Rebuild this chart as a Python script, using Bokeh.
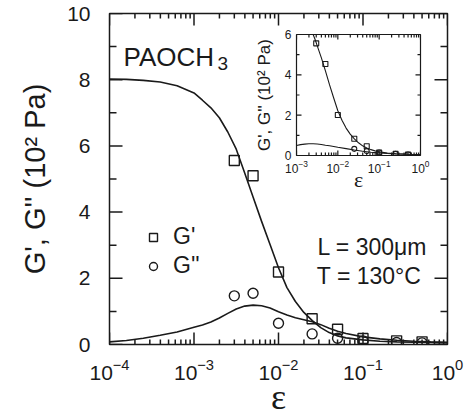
import numpy as np
from bokeh.plotting import figure
from bokeh.models import (Range1d, FixedTicker, Label, Legend, LegendItem,
                          Arrow, ColumnDataSource)
from bokeh.layouts import column
from bokeh.embed import file_html
from bokeh.resources import INLINE

# ---------------- data ----------------
strain = [0.003, 0.005, 0.01, 0.025, 0.05, 0.1, 0.25, 0.5]
g_storage = [5.56, 5.10, 2.19, 0.78, 0.46, 0.18, 0.11, 0.08]
g_loss = [1.47, 1.55, 0.64, 0.32, 0.19, 0.11, 0.06, 0.05]

fit_log_strain = [-4.0, -3.8, -3.6, -3.4, -3.2, -3.0, -2.9, -2.8, -2.7, -2.6,
                  -2.5, -2.4, -2.3, -2.2, -2.1, -2.0, -1.9, -1.8, -1.7, -1.6,
                  -1.5, -1.4, -1.3, -1.2, -1.0, -0.8, -0.6, -0.4, -0.2, 0.0]
fit_storage = [8.02, 8.01, 7.98, 7.93, 7.82, 7.60, 7.38, 7.15, 6.85, 6.42,
               5.90, 5.18, 4.45, 3.72, 3.02, 2.32, 1.72, 1.30, 0.97, 0.72,
               0.51, 0.36, 0.26, 0.20, 0.14, 0.10, 0.08, 0.07, 0.06, 0.05]
fit_loss = [0.08, 0.12, 0.19, 0.28, 0.38, 0.52, 0.59, 0.68, 0.80, 0.94,
            1.07, 1.16, 1.19, 1.17, 1.10, 0.99, 0.89, 0.81, 0.75, 0.69,
            0.60, 0.49, 0.40, 0.33, 0.23, 0.17, 0.13, 0.10, 0.08, 0.07]

inset_strain = [0.003, 0.005, 0.01, 0.025, 0.05, 0.1, 0.25, 0.5]
inset_storage = [5.56, 4.54, 2.01, 0.83, 0.46, 0.15, 0.08, 0.05]
inset_loss_strain = [0.025, 0.05, 0.1, 0.25, 0.5]
inset_loss = [0.33, 0.22, 0.15, 0.08, 0.05]

inset_fit_log_strain_s = [-2.62, -2.55, -2.5, -2.4, -2.3, -2.2, -2.1, -2.0, -1.9,
                          -1.8, -1.7, -1.6, -1.5, -1.4, -1.3, -1.2, -1.1, -1.0,
                          -0.8, -0.6, -0.3, 0.0]
inset_fit_storage = [6.12, 5.75, 5.45, 4.85, 4.20, 3.50, 2.85, 2.22, 1.75,
                     1.36, 1.06, 0.82, 0.63, 0.48, 0.37, 0.29, 0.23, 0.18,
                     0.12, 0.09, 0.06, 0.05]
inset_fit_log_strain_l = [-3.0, -2.9, -2.8, -2.7, -2.6, -2.5, -2.4, -2.3, -2.2,
                          -2.1, -2.0, -1.8, -1.6, -1.4, -1.2, -1.0, -0.8, -0.6,
                          -0.3, 0.0]
inset_fit_loss = [0.50, 0.54, 0.565, 0.58, 0.58, 0.57, 0.545, 0.51, 0.48,
                  0.45, 0.41, 0.34, 0.27, 0.21, 0.16, 0.13, 0.10, 0.08,
                  0.06, 0.05]

x_major = [1e-4, 1e-3, 1e-2, 1e-1, 1.0]
y_major = [0, 2, 4, 6, 8, 10]
y_minor = [1, 3, 5, 7, 9]
inset_x_major = [1e-3, 1e-2, 1e-1, 1.0]
inset_y_major = [0, 2, 4, 6]
inset_y_minor = [1, 3, 5]

SANS = "Liberation Sans"
SERIF = "Liberation Serif"
INK = "#1a1a1a"


def log_minors(majors):
    out = []
    for m in majors[:-1]:
        out += [k * m for k in range(2, 10)]
    return out


def style_axis(ax, font_px):
    ax.axis_line_color = None
    ax.major_tick_line_color = None
    ax.minor_tick_line_color = None
    ax.major_tick_in = 0
    ax.major_tick_out = 0
    ax.minor_tick_in = 0
    ax.minor_tick_out = 0
    ax.major_label_text_font = SANS
    ax.major_label_text_font_size = font_px
    ax.major_label_text_color = INK
    ax.axis_label_text_font_style = "normal"
    ax.axis_label_text_color = INK


def inward_ticks(fig, xr, yr, frame_w, frame_h, xmaj, xmin, ymaj, ymin,
                 len_xmaj, len_xmin, len_ymaj, len_ymin, lw):
    """Inward tick marks on all four frame sides, drawn as head-less Arrow
    annotations built from the tick lists (lengths given in pixels)."""
    decades = np.log10(xr[1] / xr[0])
    dy = lambda px: px * (yr[1] - yr[0]) / frame_h
    fx = lambda px: 10 ** (px * decades / frame_w)
    xs, ys, xe, ye = [], [], [], []
    for ticks, L in ((xmaj, len_xmaj), (xmin, len_xmin)):
        for t in ticks:
            xs += [t, t]
            xe += [t, t]
            ys += [yr[0], yr[1]]
            ye += [yr[0] + dy(L), yr[1] - dy(L)]
    for ticks, L in ((ymaj, len_ymaj), (ymin, len_ymin)):
        for t in ticks:
            xs += [xr[0], xr[1]]
            xe += [xr[0] * fx(L), xr[1] / fx(L)]
            ys += [t, t]
            ye += [t, t]
    src = ColumnDataSource(dict(xs=[float(v) for v in xs],
                                ys=[float(v) for v in ys],
                                xe=[float(v) for v in xe],
                                ye=[float(v) for v in ye]))
    fig.add_layout(Arrow(end=None, start=None, x_start="xs", y_start="ys",
                         x_end="xe", y_end="ye", source=src,
                         line_color=INK, line_width=lw))


# ---------------- main figure ----------------
W, H = 469, 419
ML, MR, MT, MB = 109, 22, 13, 73
p = figure(width=W, height=H, x_axis_type="log",
           x_range=Range1d(1e-4, 1), y_range=Range1d(0, 10),
           output_backend="svg", toolbar_location=None,
           min_border_left=ML, min_border_right=MR,
           min_border_top=MT, min_border_bottom=MB)
p.xgrid.visible = False
p.ygrid.visible = False
p.outline_line_color = INK
p.outline_line_width = 1.5
p.background_fill_color = "white"
p.border_fill_color = "white"

xa = p.xaxis[0]
xa.ticker = FixedTicker(ticks=x_major, minor_ticks=[])
style_axis(xa, "21px")
xa.major_label_standoff = 14
xa.axis_label = "ε"
xa.axis_label_text_font = SERIF
xa.axis_label_text_font_size = "36px"
xa.axis_label_standoff = -6

ya = p.yaxis[0]
ya.ticker = FixedTicker(ticks=y_major, minor_ticks=[])
style_axis(ya, "21px")
ya.major_label_standoff = 19
ya.axis_label = "G', G'' (10² Pa)"
ya.axis_label_text_font = SANS
ya.axis_label_text_font_size = "29px"
ya.axis_label_standoff = 13

fit_x = [10 ** v for v in fit_log_strain]
p.line(fit_x, fit_storage, line_color=INK, line_width=1.6)
p.line(fit_x, fit_loss, line_color=INK, line_width=1.6)
r_sq = p.scatter(strain, g_storage, marker="square", size=10, fill_color=None,
                 line_color=INK, line_width=1.4)
r_ci = p.scatter(strain, g_loss, marker="circle", size=10, fill_color=None,
                 line_color=INK, line_width=1.4)

inward_ticks(p, (1e-4, 1.0), (0, 10), W - ML - MR, H - MT - MB,
             x_major, log_minors(x_major), y_major, y_minor,
             12, 5, 13, 7, 1.5)

legend = Legend(items=[LegendItem(label="G'", renderers=[r_sq]),
                       LegendItem(label="G''", renderers=[r_ci])],
                location=(34, 65), glyph_width=20, glyph_height=26,
                label_standoff=10, spacing=2, padding=0, margin=0,
                border_line_color=None, background_fill_alpha=0,
                label_text_font=SANS, label_text_font_size="23px",
                label_text_color=INK)
p.add_layout(legend)

name_pos = (10 ** -3.833, 8.70)
sub_pos = (10 ** -2.721, 8.49)
len_pos = (10 ** -1.538, 2.96)
temp_pos = (10 ** -1.546, 2.06)
p.add_layout(Label(x=name_pos[0], y=name_pos[1], text="PAOCH", text_font=SANS,
                   text_font_size="26px", text_baseline="alphabetic",
                   text_color=INK))
p.add_layout(Label(x=sub_pos[0], y=sub_pos[1], text="3", text_font=SANS,
                   text_font_size="19px", text_baseline="alphabetic",
                   text_color=INK))
p.add_layout(Label(x=len_pos[0], y=len_pos[1], text="L = 300μm", text_font=SANS,
                   text_font_size="23px", text_baseline="alphabetic",
                   text_color=INK))
p.add_layout(Label(x=temp_pos[0], y=temp_pos[1], text="T = 130°C", text_font=SANS,
                   text_font_size="23px", text_baseline="alphabetic",
                   text_color=INK))

# ---------------- inset figure (overlaid on the main one) ----------------
IFW, IFH = 124, 121          # inset frame size
IL, IR, IT, IB = ML, MR, 12, 46
ins = figure(width=IL + IFW + IR, height=IT + IFH + IB, x_axis_type="log",
             x_range=Range1d(1e-3, 1), y_range=Range1d(0, 6),
             output_backend="svg", toolbar_location=None,
             min_border_left=IL, min_border_right=IR,
             min_border_top=IT, min_border_bottom=IB)
ins.margin = (34 - IT - H, 0, 0, 296 - IL)
ins.xgrid.visible = False
ins.ygrid.visible = False
ins.outline_line_color = INK
ins.outline_line_width = 1.2
ins.background_fill_color = "white"
ins.border_fill_color = None

ixa = ins.xaxis[0]
ixa.ticker = FixedTicker(ticks=inset_x_major, minor_ticks=[])
style_axis(ixa, "12px")
ixa.major_label_standoff = 4
ixa.axis_label = "ε"
ixa.axis_label_text_font = SERIF
ixa.axis_label_text_font_size = "22px"
ixa.axis_label_standoff = -9

iya = ins.yaxis[0]
iya.ticker = FixedTicker(ticks=inset_y_major, minor_ticks=[])
style_axis(iya, "12px")
iya.major_label_standoff = 5
iya.axis_label = "G', G'' (10² Pa)"
iya.axis_label_text_font = SANS
iya.axis_label_text_font_size = "17px"
iya.axis_label_standoff = 8

ins.line([10 ** v for v in inset_fit_log_strain_s], inset_fit_storage,
         line_color=INK, line_width=1.1)
ins.line([10 ** v for v in inset_fit_log_strain_l], inset_fit_loss,
         line_color=INK, line_width=1.1)
ins.scatter(inset_strain, inset_storage, marker="square", size=5,
            fill_color=None, line_color=INK, line_width=1.1)
ins.scatter(inset_loss_strain, inset_loss, marker="circle", size=5,
            fill_color=None, line_color=INK, line_width=1.1)

inward_ticks(ins, (1e-3, 1.0), (0, 6), IFW, IFH,
             inset_x_major, log_minors(inset_x_major), inset_y_major,
             inset_y_minor, 5, 3, 5, 3, 1.2)

layout = column(p, ins, spacing=0)
open("out.html", "w").write(file_html(layout, INLINE))
